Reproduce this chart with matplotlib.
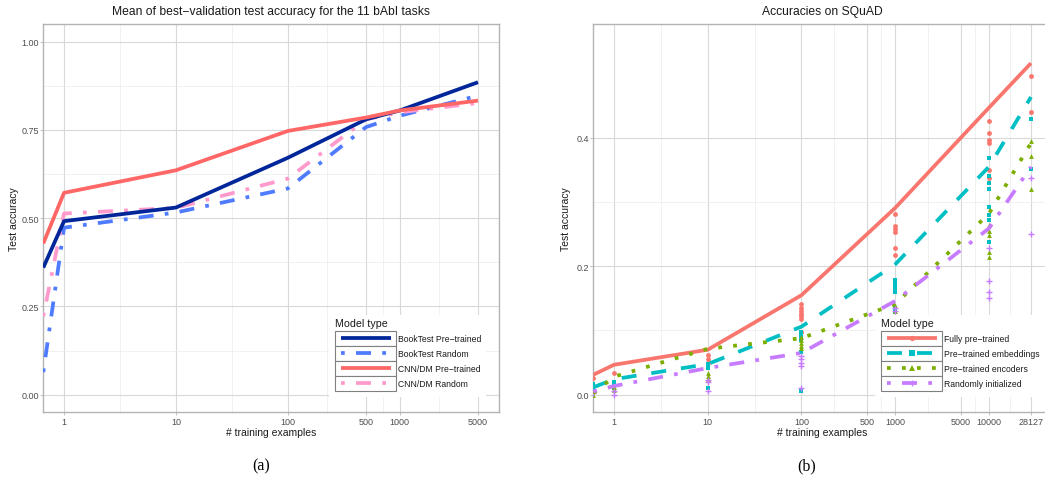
import numpy as np
import matplotlib
matplotlib.use("Agg")
import matplotlib.pyplot as plt
from matplotlib.lines import Line2D
from matplotlib.patches import Rectangle
from matplotlib.ticker import FixedLocator, NullFormatter

plt.rcParams['font.family'] = ['Liberation Sans', 'DejaVu Sans']

# ---------------- data: panel (a) bAbI ----------------
x_babi = [0.653, 1, 10, 100, 500, 1000, 5000]
booktest_pre = [0.36, 0.4915, 0.530, 0.671, 0.780, 0.805, 0.885]
booktest_rand = [0.064, 0.473, 0.516, 0.584, 0.758, 0.790, 0.847]
cnn_pre = [0.4285, 0.5717, 0.6356, 0.747, 0.785, 0.805, 0.833]
cnn_rand = [0.222, 0.513, 0.529, 0.612, 0.780, 0.800, 0.826]
babi_labels = ["BookTest Pre\u2212trained", "BookTest Random",
               "CNN/DM Pre\u2212trained", "CNN/DM Random"]
babi_xticks = [1, 10, 100, 500, 1000, 5000]
babi_yticks = [0.00, 0.25, 0.50, 0.75, 1.00]

# ---------------- data: panel (b) SQuAD ----------------
x_squad = [0.6, 1, 10, 100, 1000, 10000, 28127]
fully = [0.031, 0.0466, 0.070, 0.155, 0.291, 0.447, 0.5165]
emb = [0.0115, 0.024, 0.0477, 0.106, 0.203, 0.355, 0.4637]
enc = [0.002, 0.028, 0.0715, 0.088, 0.141, 0.282, 0.392]
rand = [0.005, 0.0135, 0.0415, 0.065, 0.146, 0.259, 0.355]

fully_runs = {0.6: [0.026], 1: [0.033], 10: [0.062, 0.056, 0.049],
              100: [0.141, 0.135, 0.130, 0.125, 0.122, 0.118, 0.097],
              1000: [0.282, 0.262, 0.258, 0.254, 0.228, 0.218],
              10000: [0.427, 0.408, 0.396, 0.392, 0.35, 0.337],
              28127: [0.496, 0.44]}
emb_runs = {0.6: [0.016, 0.008], 1: [0.020, 0.015, 0.010],
            10: [0.048, 0.041, 0.010],
            100: [0.098, 0.092, 0.085, 0.067, 0.005],
            1000: [0.178, 0.172, 0.166, 0.160, 0.135, 0.128],
            10000: [0.368, 0.34, 0.33, 0.32, 0.293, 0.28, 0.272, 0.238],
            28127: [0.43, 0.352]}
enc_runs = {0.6: [0.0], 1: [0.012, 0.008], 10: [0.033, 0.029, 0.025],
            100: [0.09, 0.085, 0.08, 0.076, 0.072],
            1000: [0.138, 0.13],
            10000: [0.264, 0.255, 0.249, 0.223, 0.215],
            28127: [0.395, 0.372, 0.32]}
rand_runs = {0.6: [0.002], 1: [0.005, 0.0], 10: [0.023, 0.020, 0.006],
             100: [0.06, 0.055, 0.05, 0.045, 0.01],
             1000: [0.135, 0.13],
             10000: [0.228, 0.177, 0.16, 0.15],
             28127: [0.338, 0.25]}
squad_labels = ["Fully pre\u2212trained", "Pre\u2212trained embeddings",
                "Pre\u2212trained encoders", "Randomly initialized"]
squad_xticks = [1, 10, 100, 500, 1000, 5000, 10000, 28127]
squad_yticks = [0.0, 0.2, 0.4]

# ---------------- styles ----------------
W, H = 1045, 481
LW = 2.7
babi_colors = ['#00269A', '#4F7BFF', '#FF6666', '#FF9ACD']
babi_ls = ['-', (0, (1, 3, 4, 3)), '-', (0, (1, 3, 4, 3))]
squad_colors = ['#F8766D', '#00BFC4', '#7CAE00', '#C77CFF']
squad_ls = ['-', (0, (4, 4)), (0, (1, 3)), (0, (1, 3, 4, 3))]
squad_markers = ['o', 's', '^', '+']
GRID_MAJ = '#D9D9D9'
GRID_MIN = '#ECECEC'
BORDER = '#B3B3B3'
TICKTXT = '#4D4D4D'

fig = plt.figure(figsize=(W / 100, H / 100), dpi=100)


def px_rect(l, t, r, b):
    return [l / W, 1 - b / H, (r - l) / W, (b - t) / H]


def fx(x):
    return x / W


def fy(y):
    return 1 - y / H


def mids(vals, log=True):
    out = []
    for a, b in zip(vals[:-1], vals[1:]):
        out.append(np.sqrt(a * b) if log else (a + b) / 2)
    return out


def style_axes(ax, xticks, yticks, yfmt):
    ax.set_xscale('log')
    ax.xaxis.set_major_locator(FixedLocator(xticks))
    ax.set_xticklabels([str(t) for t in xticks])
    ax.xaxis.set_minor_locator(FixedLocator(mids(xticks)))
    ax.xaxis.set_minor_formatter(NullFormatter())
    ax.yaxis.set_major_locator(FixedLocator(yticks))
    ax.set_yticklabels([yfmt.format(t) for t in yticks])
    ax.yaxis.set_minor_locator(FixedLocator(mids(yticks, log=False)))
    ax.grid(which='major', color=GRID_MAJ, lw=0.8, zorder=0)
    ax.grid(which='minor', color=GRID_MIN, lw=0.5, zorder=0)
    ax.set_axisbelow(True)
    ax.tick_params(which='major', length=2.0, width=0.6, color=BORDER,
                   labelsize=6.5, labelcolor=TICKTXT, pad=1.2)
    ax.tick_params(which='minor', length=0)
    for s in ax.spines.values():
        s.set_color(BORDER)
        s.set_linewidth(1.0)


# ---------------- panel (a) ----------------
ax1 = fig.add_axes(px_rect(43.3, 25, 499, 413.3))
series_a = [booktest_pre, booktest_rand, cnn_pre, cnn_rand]
order_a = [1, 3, 0, 2]
for i in order_a:
    ax1.plot(x_babi, series_a[i], color=babi_colors[i], ls=babi_ls[i],
             lw=LW, solid_capstyle='butt', zorder=3)
style_axes(ax1, babi_xticks, babi_yticks, '{:.2f}')
ax1.set_xlim(0.653, 7710)
ax1.set_ylim(-0.05, 1.05)

# ---------------- panel (b) ----------------
ax2 = fig.add_axes(px_rect(593.3, 25, 1051, 413.3))
series_b = [fully, emb, enc, rand]
runs_b = [fully_runs, emb_runs, enc_runs, rand_runs]
for i in range(4):
    px, py = [], []
    for xv, vals in runs_b[i].items():
        px += [xv] * len(vals)
        py += vals
    if squad_markers[i] == '+':
        ax2.scatter(px, py, marker='+', s=22, color=squad_colors[i],
                    linewidths=1.0, zorder=3)
    else:
        ax2.scatter(px, py, marker=squad_markers[i], s=12,
                    color=squad_colors[i], linewidths=0, zorder=3)
for i in range(4):
    ax2.plot(x_squad, series_b[i], color=squad_colors[i], ls=squad_ls[i],
             lw=LW, solid_capstyle='butt', zorder=4)
style_axes(ax2, squad_xticks, squad_yticks, '{:.1f}')
ax2.set_xlim(0.6, 46000)
ax2.set_ylim(-0.0275, 0.5775)

# ---------------- texts ----------------
fig.text(fx(271), fy(12), "Mean of best\u2212validation test accuracy for the 11 bAbI tasks",
         ha='center', va='center', fontsize=8.7, color='#1A1A1A')
fig.text(fx(822), fy(12), "Accuracies on SQuAD",
         ha='center', va='center', fontsize=8.7, color='#1A1A1A')
for cx in (271, 822):
    fig.text(fx(cx), fy(433), "# training examples", ha='center', va='center',
             fontsize=7.5, color='#1A1A1A')
for cx in (14, 566):
    fig.text(fx(cx), fy(219), "Test accuracy", ha='center', va='center',
             rotation=90, fontsize=7.5, color='#1A1A1A')
fig.text(fx(261), fy(466), "(a)", ha='center', va='center', fontsize=11.5,
         family=['Liberation Serif', 'DejaVu Serif'])
fig.text(fx(807), fy(466), "(b)", ha='center', va='center', fontsize=11.5,
         family=['Liberation Serif', 'DejaVu Serif'])


# ---------------- legends ----------------
def draw_legend(x0, bg_l, bg_r, labels, colors, styles, markers=None):
    top, row_h, key_w = 331.7, 15.0, 61.0
    fig.add_artist(Rectangle((fx(bg_l), fy(398)), fx(bg_r - bg_l), (398 - 316) / H,
                             transform=fig.transFigure, facecolor='white',
                             edgecolor='none', zorder=5))
    fig.text(fx(x0), fy(324), "Model type", ha='left', va='center',
             fontsize=7.7, color='#1A1A1A', zorder=6)
    for i, lab in enumerate(labels):
        yt = top + i * row_h
        yc = yt + row_h / 2
        fig.add_artist(Rectangle((fx(x0), fy(yt + row_h)), fx(key_w), row_h / H,
                                 transform=fig.transFigure, facecolor='white',
                                 edgecolor='#808080', lw=0.8, zorder=6))
        fig.add_artist(Line2D([fx(x0 + 5.5), fx(x0 + key_w - 5.5)], [fy(yc), fy(yc)],
                              transform=fig.transFigure, color=colors[i],
                              ls=styles[i], lw=LW, solid_capstyle='butt', zorder=7))
        if markers is not None:
            mk = markers[i]
            fig.add_artist(Line2D([fx(x0 + key_w / 2)], [fy(yc)],
                                  transform=fig.transFigure, color=colors[i],
                                  marker=mk, ls='none',
                                  ms=4.5 if mk == '+' else 3.8,
                                  mew=1.0 if mk == '+' else 0, zorder=8))
        fig.text(fx(x0 + key_w + 2.5), fy(yc), lab, ha='left', va='center',
                 fontsize=6.2, color='#1A1A1A', zorder=6)


draw_legend(335, 329, 486, babi_labels, babi_colors, babi_ls)
draw_legend(881, 875, 1045, squad_labels, squad_colors, squad_ls, squad_markers)

fig.savefig('out.png', dpi=100)
